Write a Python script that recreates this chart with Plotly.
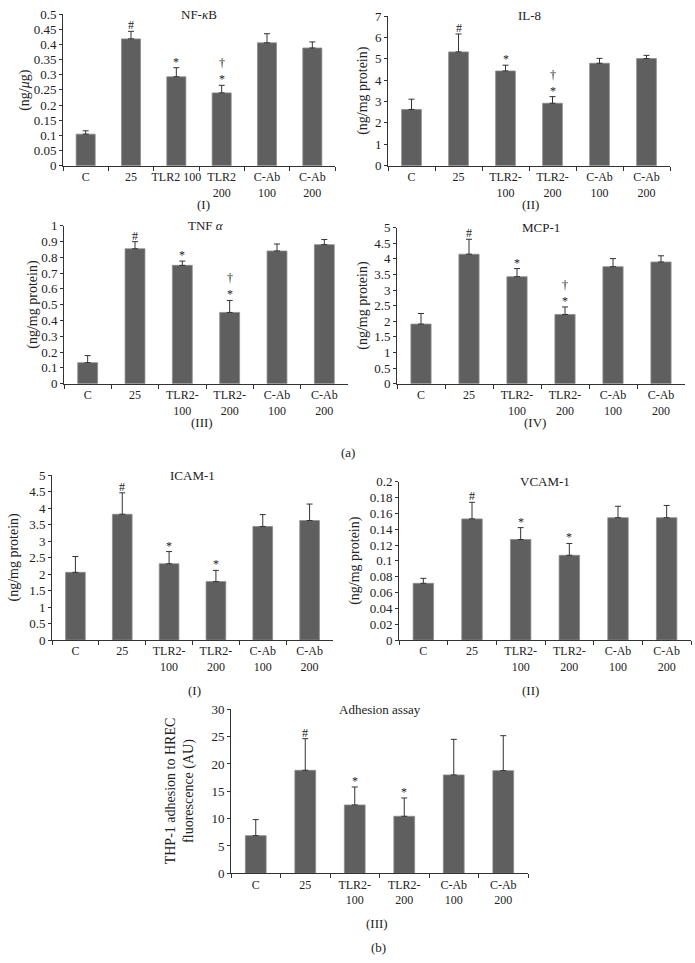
import plotly.graph_objects as go

categories = ["C", "25", "TLR2-100", "TLR2-200", "C-Ab 100", "C-Ab 200"]
tick_labels_nfkb = ["C", "25", "TLR2 100", "TLR2<br>200", "C-Ab<br>100", "C-Ab<br>200"]
tick_labels = ["C", "25", "TLR2-<br>100", "TLR2-<br>200", "C-Ab<br>100", "C-Ab<br>200"]

nfkb_mean = [0.104, 0.418, 0.293, 0.240, 0.405, 0.388]
nfkb_err = [0.011, 0.025, 0.030, 0.025, 0.030, 0.020]
il8_mean = [2.63, 5.32, 4.43, 2.92, 4.79, 5.01]
il8_err = [0.48, 0.84, 0.27, 0.31, 0.23, 0.15]
tnf_mean = [0.133, 0.854, 0.749, 0.451, 0.840, 0.880]
tnf_err = [0.045, 0.045, 0.027, 0.076, 0.044, 0.033]
mcp1_mean = [1.91, 4.15, 3.43, 2.22, 3.75, 3.90]
mcp1_err = [0.34, 0.48, 0.26, 0.24, 0.26, 0.20]
icam1_mean = [2.05, 3.81, 2.31, 1.77, 3.44, 3.62]
icam1_err = [0.48, 0.65, 0.37, 0.34, 0.36, 0.50]
vcam1_mean = [0.0716, 0.153, 0.127, 0.107, 0.1545, 0.1545]
vcam1_err = [0.0063, 0.021, 0.015, 0.015, 0.0145, 0.0155]
adh_mean = [6.89, 18.84, 12.5, 10.43, 17.99, 18.78]
adh_err = [2.93, 5.79, 3.29, 3.35, 6.52, 6.40]

sig_a = ["", "#", "*", "†<br>*", "", ""]
sig_b = ["", "#", "*", "*", "", ""]

W, H = 695, 963
FONT = "Liberation Serif"
TXT = "#222222"
BAR = "#5f5f5f"
FSX = 12   # x tick labels
FSY = 13   # y tick labels
FST = 13   # titles / sublabels
FSA = 14   # y-axis titles

panels = [
    (nfkb_mean, nfkb_err, sig_a, "NF-<i>κ</i>B", "(ng/<i>μ</i>g)", tick_labels_nfkb, 0.5, 0.05, 63, 335, 14, 165.7, 25, "(I)", 203, 204),
    (il8_mean, il8_err, sig_a, "IL-8", "(ng/mg protein)", tick_labels, 7, 1, 388, 670, 16, 165.7, 363, "(II)", 530, 204),
    (tnf_mean, tnf_err, sig_a, "TNF <i>α</i>", "(ng/mg protein)", tick_labels, 1, 0.1, 64, 348, 225.7, 383.7, 33, "(III)", 202, 423),
    (mcp1_mean, mcp1_err, sig_a, "MCP-1", "(ng/mg protein)", tick_labels, 5, 0.5, 397, 685, 227.7, 383.7, 363, "(IV)", 535, 423),
    (icam1_mean, icam1_err, sig_b, "ICAM-1", "(ng/mg protein)", tick_labels, 5, 0.5, 52, 333, 475, 640, 13, "(I)", 195, 690),
    (vcam1_mean, vcam1_err, sig_b, "VCAM-1", "(ng/mg protein)", tick_labels, 0.2, 0.02, 399, 691, 481.7, 640, 355, "(II)", 530, 690),
    (adh_mean, adh_err, sig_b, "Adhesion assay", "THP-1 adhesion to HREC<br>fluorescence (AU)", tick_labels, 30, 5, 231, 528, 709.3, 873.3, 180, "(III)", 377, 923),
]

fig = go.Figure()
annotations = []
layout = {}
for i, (mean, err, sig, title, ytitle, tl, ymax, dt, x0, x1, yt, yb, ytx, sub, sx, sy) in enumerate(panels):
    n = i + 1
    xa = "x" if n == 1 else f"x{n}"
    ya = "y" if n == 1 else f"y{n}"
    xkey = "xaxis" if n == 1 else f"xaxis{n}"
    ykey = "yaxis" if n == 1 else f"yaxis{n}"
    fig.add_trace(go.Bar(
        x=categories, y=mean, xaxis=xa, yaxis=ya, width=0.42,
        marker=dict(color=BAR, line=dict(color="#8c8c8c", width=0.8)),
        error_y=dict(type="data", symmetric=False, array=err, arrayminus=[0]*len(err),
                     color="#333333", thickness=1, width=3),
        showlegend=False, hoverinfo="skip"))
    layout[xkey] = dict(domain=[x0 / W, x1 / W], anchor=ya, type="category", automargin=False,
                        tickvals=categories, ticktext=tl, tickson="boundaries",
                        ticks="outside", ticklen=4, tickcolor="#333", showline=True,
                        linecolor="#333", linewidth=1, showgrid=False, zeroline=False,
                        tickfont=dict(family=FONT, size=FSX, color=TXT), tickangle=0,
                        range=[-0.5, 5.5], fixedrange=True)
    layout[ykey] = dict(domain=[1 - yb / H, 1 - yt / H], anchor=xa, range=[0, ymax * 1.0001],
                        automargin=False, fixedrange=True,
                        dtick=dt, tick0=0, ticks="outside", ticklen=3, tickcolor="#333",
                        showline=True, linecolor="#333", linewidth=1, showgrid=False,
                        zeroline=False, tickfont=dict(family=FONT, size=FSY, color=TXT))
    annotations.append(dict(text=title, xref=f"{xa} domain", yref=f"{ya} domain", x=0.5, y=1.0,
                            yanchor="middle", xanchor="center", showarrow=False,
                            font=dict(family=FONT, size=FST, color=TXT)))
    annotations.append(dict(text=ytitle, xref="paper", yref=f"{ya} domain", x=ytx / W, y=0.5,
                            textangle=-90, xanchor="center", yanchor="middle", showarrow=False,
                            font=dict(family=FONT, size=FSA, color=TXT)))
    annotations.append(dict(text=sub, xref="paper", yref="paper", x=sx / W, y=1 - sy / H,
                            xanchor="center", yanchor="middle", showarrow=False,
                            font=dict(family=FONT, size=FST, color=TXT)))
    for k, (m, e, s) in enumerate(zip(mean, err, sig)):
        if s:
            annotations.append(dict(text=s, xref=xa, yref=ya, x=k, y=m + e, xanchor="center",
                                    yanchor="bottom", showarrow=False, yshift=-3,
                                    font=dict(family=FONT, size=FSX, color=TXT)))

annotations.append(dict(text="(a)", xref="paper", yref="paper", x=348 / W, y=1 - 452 / H,
                        xanchor="center", yanchor="middle", showarrow=False,
                        font=dict(family=FONT, size=FST, color=TXT)))
annotations.append(dict(text="(b)", xref="paper", yref="paper", x=378 / W, y=1 - 947 / H,
                        xanchor="center", yanchor="middle", showarrow=False,
                        font=dict(family=FONT, size=FST, color=TXT)))

fig.update_layout(template="none", width=W, height=H, margin=dict(l=0, r=0, t=0, b=0, pad=0),
                  paper_bgcolor="white", plot_bgcolor="white", bargap=0.58,
                  hovermode=False, annotations=annotations, **layout)
fig.write_html("out.html", config={"displayModeBar": False, "staticPlot": True},
               post_script="document.body.style.margin='0px';document.body.style.overflow='hidden';")
